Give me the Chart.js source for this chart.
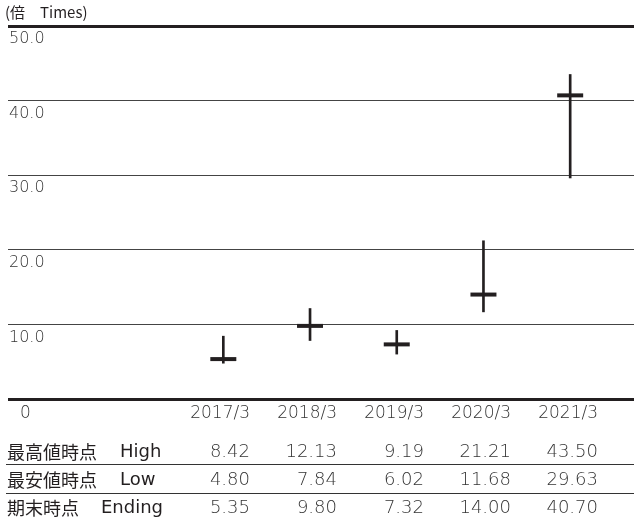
<!DOCTYPE html>
<html>
<head>
<meta charset="utf-8">
<script src="https://cdn.jsdelivr.net/npm/chart.js@4"></script>
<style>
  body { margin: 0; background: #fff; overflow: hidden; }
  #wrap { position: relative; width: 634px; height: 520px; }
  #wrap canvas { position: absolute; left: 0; top: 0; }
  .txt { position: absolute; white-space: nowrap; height: 24px; line-height: 24px; color: #231f20; }
  .jp { font-family: "Noto Sans CJK JP", sans-serif; font-size: 18px; }
  .jp span { font-family: "DejaVu Sans", sans-serif; font-size: 18px; font-weight: 400; position: absolute; top: 0; }
  .num { font-family: "DejaVu Sans", sans-serif; font-size: 18px; font-weight: 300; color: #333; text-align: right; }
  .rule { position: absolute; left: 6px; width: 628px; height: 1px; background: #333; }
</style>
</head>
<body>
<div id="wrap">
  <canvas id="peChart" width="634" height="520"></canvas>
</div>
<script>
// values
const years = ["2017/3", "2018/3", "2019/3", "2020/3", "2021/3"];
const high = [8.42, 12.13, 9.19, 21.21, 43.50];
const low = [4.80, 7.84, 6.02, 11.68, 29.63];
const ending = [5.35, 9.80, 7.32, 14.00, 40.70];
const yTicks = [0, 10, 20, 30, 40, 50];
const rowLabelsJa = ["最高値時点", "最安値時点", "期末時点"];
const rowLabelsEn = ["High", "Low", "Ending"];
const unitLabel = "(倍　Times)";

const ink = "#231f20";

const ctx = document.getElementById("peChart").getContext("2d");
const chart = new Chart(ctx, {
  type: "bar",
  data: {
    datasets: [
      {
        label: "Ending",
        type: "line",
        data: ending.map((v, i) => ({ x: i, y: v })),
        showLine: false,
        pointStyle: "line",
        pointRadius: 13,
        pointBorderWidth: 4,
        pointBorderColor: ink,
        pointBackgroundColor: ink,
        clip: false,
        order: 0
      },
      {
        label: "High-Low",
        data: high.map((v, i) => ({ x: i, y: [low[i], v] })),
        backgroundColor: ink,
        borderWidth: 0,
        barThickness: 2,
        order: 1
      }
    ]
  },
  options: {
    responsive: false,
    animation: false,
    events: [],
    layout: { autoPadding: false, padding: { top: 26, bottom: 121, left: 6, right: 0 } },
    plugins: {
      legend: { display: false },
      tooltip: { enabled: false }
    },
    scales: {
      x: { type: "linear", display: false, min: -2.483, max: 4.736, offset: false },
      y: {
        min: 0, max: 50,
        afterBuildTicks: (axis) => { axis.ticks = yTicks.map(v => ({ value: v })); },
        border: { display: false },
        grid: {
          drawTicks: false,
          color: (c) => (c.tick.value === 0 || c.tick.value === 50) ? ink : "#444",
          lineWidth: (c) => (c.tick.value === 0 || c.tick.value === 50) ? 3 : 1
        },
        ticks: {
          mirror: true,
          padding: 1,
          labelOffset: 13,
          color: "#333",
          font: { family: "DejaVu Sans", size: 16, weight: 300 },
          callback: (v) => v === 0 ? "" : v.toFixed(1)
        }
      }
    }
  }
});

// unit label and table under the plot
const wrap = document.getElementById("wrap");
function addText(cls, text, css) {
  const d = document.createElement("div");
  d.className = "txt " + cls;
  d.textContent = text;
  Object.assign(d.style, css);
  wrap.appendChild(d);
  return d;
}
addText("jp", unitLabel, { left: "5px", top: "0px", fontSize: "15px" });

const colRight = (i) => 250 + 87 * i;
const rowCenter = [412, 451, 479, 507];

addText("num", "0", { left: "20px", top: (rowCenter[0] - 12) + "px", fontSize: "17px", textAlign: "left" });
years.forEach((y, i) => addText("num", y, { right: (634 - colRight(i)) + "px", top: (rowCenter[0] - 12) + "px", fontSize: "17px" }));

[high, low, ending].forEach((arr, r) => {
  const top = (rowCenter[r + 1] - 12) + "px";
  const lab = addText("jp", rowLabelsJa[r], { left: "7px", top: top, width: "200px" });
  const en = document.createElement("span");
  en.textContent = rowLabelsEn[r];
  en.style.left = (r === 2 ? 94 : 113) + "px";
  lab.appendChild(en);
  arr.forEach((v, i) => addText("num", v.toFixed(2), { right: (634 - colRight(i)) + "px", top: top }));
});

[464, 493].forEach(y => {
  const d = document.createElement("div");
  d.className = "rule";
  d.style.top = y + "px";
  wrap.appendChild(d);
});
</script>
</body>
</html>
